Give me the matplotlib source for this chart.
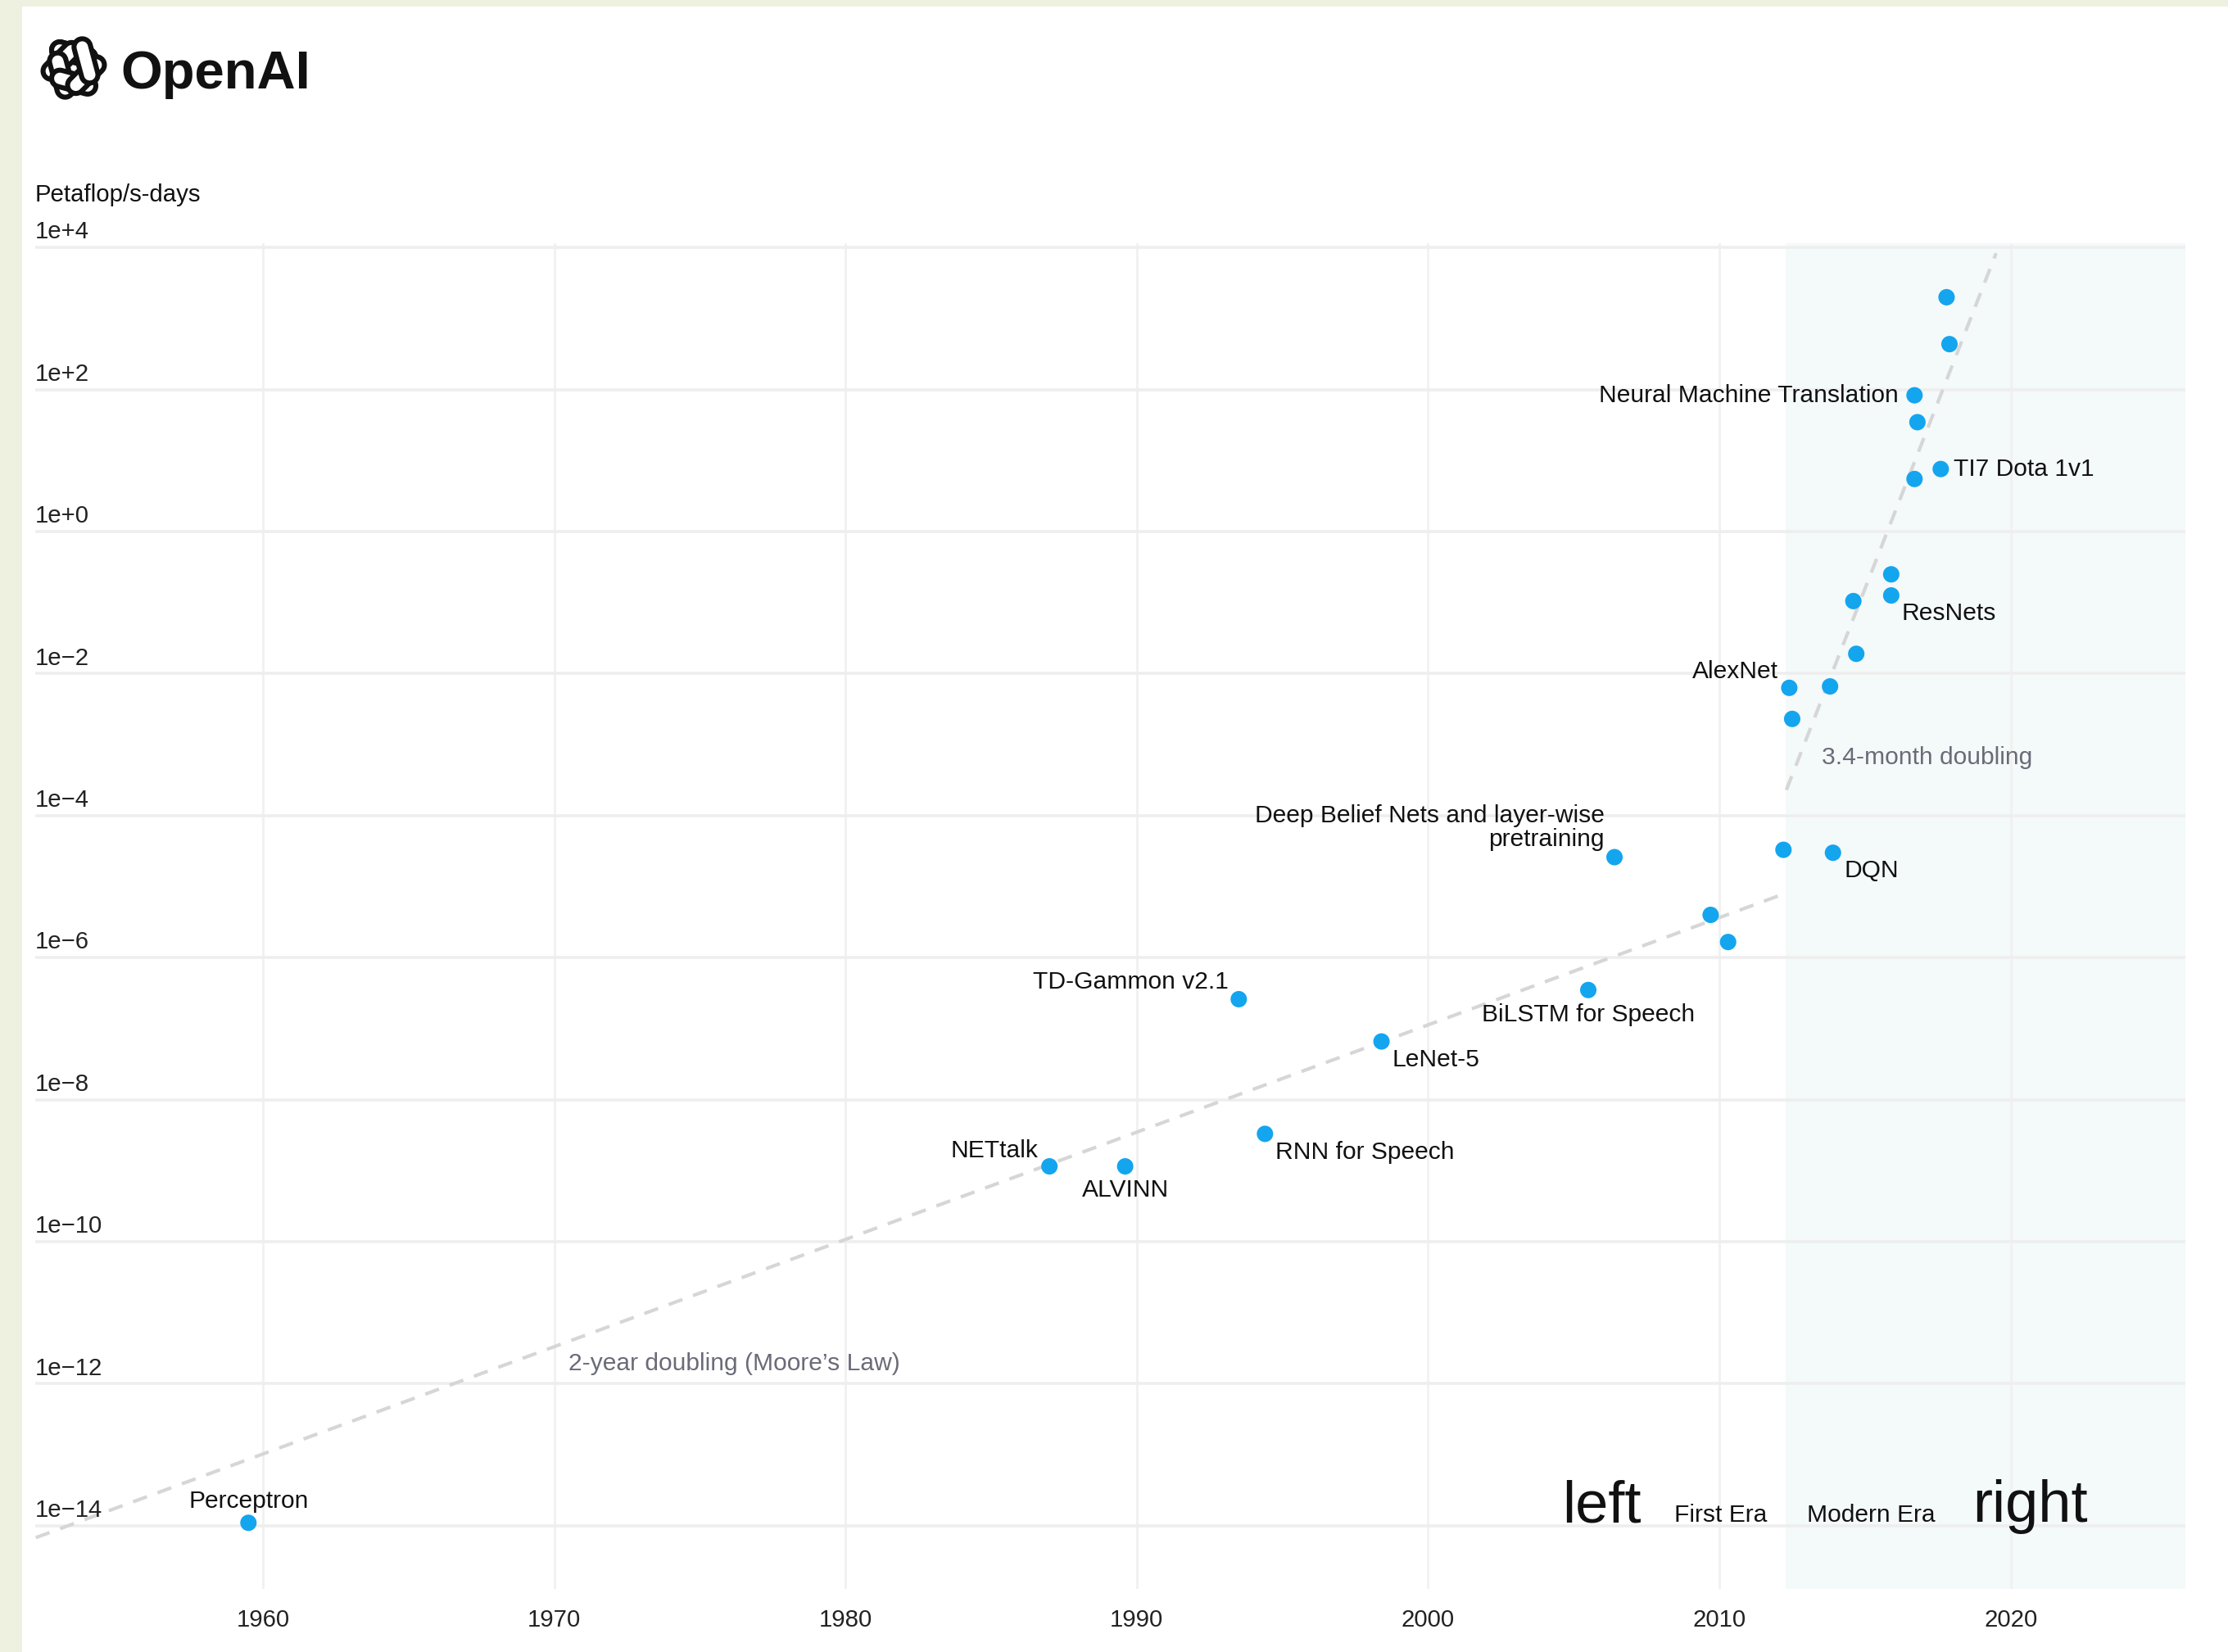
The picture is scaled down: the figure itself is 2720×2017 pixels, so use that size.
import numpy as np
import matplotlib
matplotlib.use('Agg')
import matplotlib.pyplot as plt
from matplotlib.patches import Polygon, Rectangle
from matplotlib.ticker import NullLocator

plt.rcParams['font.family'] = ['Liberation Sans', 'DejaVu Sans']

# --- data ---
names = ['Perceptron', 'NETtalk', 'ALVINN', 'TD-Gammon v2.1', 'RNN for Speech',
         'LeNet-5', 'BiLSTM for Speech', 'Deep Belief Nets and layer-wise\npretraining',
         '', '', '', 'DQN', 'AlexNet', '', '', '', '', '', 'ResNets', '',
         'TI7 Dota 1v1', '', 'Neural Machine Translation', '', '']
years = [1959.5, 1987.0, 1989.6, 1993.5, 1994.4,
         1998.4, 2005.5, 2006.4,
         2009.7, 2010.3, 2012.2, 2013.9, 2012.4, 2012.5, 2013.8, 2014.7, 2014.6, 2015.9,
         2015.9, 2016.7, 2017.6, 2016.8, 2016.7, 2017.9, 2017.8]
pfs_days = [1.1e-14, 1.15e-9, 1.15e-9, 2.6e-7, 3.3e-9,
            6.6e-8, 3.5e-7, 2.6e-5,
            4.0e-6, 1.66e-6, 3.3e-5, 3.0e-5, 6.3e-3, 2.3e-3, 6.6e-3, 1.9e-2, 0.105, 0.25,
            0.126, 5.5, 7.6, 34.7, 83, 436, 1995]

moore_years = [1952.2, 2012.1]
moore_pfs = [6.8e-15, 7.6e-6]
modern_years = [2012.3, 2019.5]
modern_pfs = [2.3e-4, 8300]
modern_start = 2012.28

x_ticks = [1960, 1970, 1980, 1990, 2000, 2010, 2020]
y_ticks = [1e4, 1e2, 1e0, 1e-2, 1e-4, 1e-6, 1e-8, 1e-10, 1e-12, 1e-14]
y_labels = ['1e+4', '1e+2', '1e+0', '1e\u22122', '1e\u22124', '1e\u22126',
            '1e\u22128', '1e\u221210', '1e\u221212', '1e\u221214']

# label placement: offset in points, horizontal alignment
label_pos = {
    'Perceptron': (0, 9.5, 'center'),
    'NETtalk': (-5, 7, 'right'),
    'ALVINN': (0, -10.5, 'center'),
    'TD-Gammon v2.1': (-4.5, 7.5, 'right'),
    'RNN for Speech': (4.5, -8, 'left'),
    'LeNet-5': (4.5, -8, 'left'),
    'BiLSTM for Speech': (0, -11, 'center'),
    'Deep Belief Nets and layer-wise\npretraining': (-4.5, 13, 'right'),
    'DQN': (5, -8, 'left'),
    'AlexNet': (-5, 7, 'right'),
    'ResNets': (4.5, -8, 'left'),
    'TI7 Dota 1v1': (5.5, 0, 'left'),
    'Neural Machine Translation': (-7, 0, 'right'),
}

W, H = 2720, 2017
fig = plt.figure(figsize=(W / 200, H / 200), dpi=200)
fig.patch.set_facecolor('white')

# screenshot border strips
fig.add_artist(Rectangle((0, 0), 27 / W, 1, transform=fig.transFigure,
                         facecolor='#eef1e0', edgecolor='none', zorder=-5))
fig.add_artist(Rectangle((0, 1 - 8 / H), 1, 8 / H, transform=fig.transFigure,
                         facecolor='#eef1e0', edgecolor='none', zorder=-5))

ax = fig.add_axes([43 / W, 1 - 1940 / H, (2668 - 43) / W, (1940 - 297) / H])
ax.set_yscale('log')
ax.set_xlim(1952.18, 2026.0)
ax.set_ylim(10 ** -14.89, 10 ** 4.06)
for s in ax.spines.values():
    s.set_visible(False)

ax.axvspan(modern_start, 2026.0, color='#f4f9f9', zorder=0, lw=0)
for x in x_ticks:
    ax.axvline(x, color='#f1f1f1', lw=1.0, zorder=0.5)
for y in y_ticks:
    ax.axhline(y, color='#eeeeee', lw=1.3, zorder=0.5)

ax.plot(moore_years, moore_pfs, color='#d6d6d6', lw=1.5, dashes=(4.3, 3.3), zorder=1)
ax.plot(modern_years, modern_pfs, color='#d6d6d6', lw=1.5, dashes=(4.3, 3.3), zorder=1)

ax.scatter(years, pfs_days, s=52, color='#14a5ef', edgecolors='none', zorder=3)

for name, x, y in zip(names, years, pfs_days):
    if not name:
        continue
    dx, dy, ha = label_pos[name]
    ax.annotate(name, xy=(x, y), xytext=(dx, dy), textcoords='offset points',
                ha=ha, va='center', fontsize=10.8, color='#111111',
                multialignment='right', linespacing=1.05, zorder=4)

ax.text(1970.5, 1.9e-12, '2-year doubling (Moore\u2019s Law)', ha='left', va='center',
        fontsize=10.8, color='#6b6b78')
ax.text(2013.5, 6.6e-4, '3.4-month doubling', ha='left', va='center',
        fontsize=10.8, color='#6b6b78')

ax.set_xticks(x_ticks)
ax.set_xticklabels([str(x) for x in x_ticks])
ax.tick_params(axis='x', length=0, pad=8.6, labelsize=10.6, labelcolor='#222222')
ax.yaxis.set_major_locator(NullLocator())
ax.yaxis.set_minor_locator(NullLocator())
for v, lbl in zip(y_ticks, y_labels):
    ax.annotate(lbl, xy=(0, v), xycoords=('axes fraction', 'data'), xytext=(0, 6.8),
                textcoords='offset points', ha='left', va='center', fontsize=10.6,
                color='#222222', annotation_clip=False)

# legend-like era labels
ax.text(0.7285, 0.0498, 'left', transform=ax.transAxes, ha='center', va='baseline',
        fontsize=26, color='#111111')
ax.text(0.784, 0.0498, 'First Era', transform=ax.transAxes, ha='center', va='baseline',
        fontsize=10.8, color='#111111')
ax.text(0.854, 0.0498, 'Modern Era', transform=ax.transAxes, ha='center', va='baseline',
        fontsize=10.8, color='#111111')
ax.text(0.9277, 0.0498, 'right', transform=ax.transAxes, ha='center', va='baseline',
        fontsize=26, color='#111111')

fig.text(43 / W, 1 - 238 / H, 'Petaflop/s-days', ha='left', va='center',
         fontsize=10.6, color='#111111')

# OpenAI logo
fig.text(147 / W, 1 - 108 / H, 'OpenAI', ha='left', va='baseline',
         fontsize=23.5, fontweight='bold', color='#111111')
lax = fig.add_axes([42 / W, 1 - 131 / H, 96 / W, 96 / H])
lax.set_xlim(-1, 1)
lax.set_ylim(-1, 1)
lax.set_aspect('equal')
lax.axis('off')


def stadium(cx, cy, length, width, ang):
    t = np.linspace(-np.pi / 2, np.pi / 2, 20)
    r = width / 2
    half = length / 2 - r
    right = np.column_stack([half + r * np.cos(t), r * np.sin(t)])
    left = np.column_stack([-half - r * np.cos(t), -r * np.sin(t)])
    pts = np.vstack([right, left])
    c, s = np.cos(ang), np.sin(ang)
    rot = np.array([[c, -s], [s, c]])
    return pts @ rot.T + np.array([cx, cy])


for k in list(range(6)) + [0]:
    a = np.deg2rad(90 + 60 * k)
    pts = stadium(0.36 * np.cos(a), 0.36 * np.sin(a), 1.15, 0.42, a + np.deg2rad(75))
    lax.add_patch(Polygon(pts, closed=True, facecolor='white', edgecolor='#111111',
                          lw=2.2, zorder=k + 1))

fig.savefig('out.png', dpi=200, facecolor=fig.get_facecolor())
